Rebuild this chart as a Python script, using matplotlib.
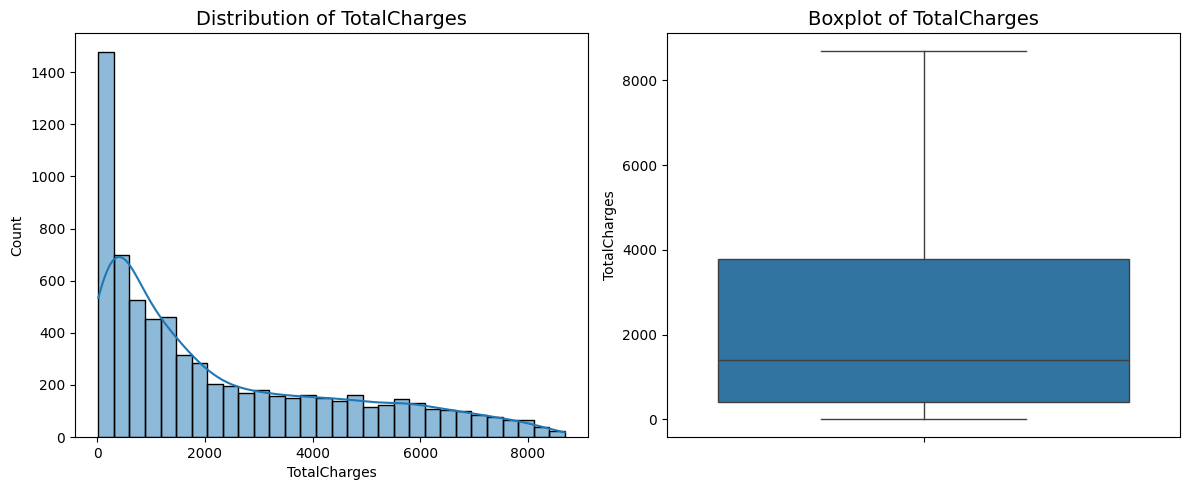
import numpy as np
import matplotlib
matplotlib.use("Agg")
from matplotlib import pyplot as plt

# histogram of TotalCharges, 30 bins between min and max
charge_min = 18.8
charge_max = 8684.8
counts = [1477, 700, 524, 454, 462, 315, 285, 204, 195, 169,
          181, 159, 150, 162, 149, 140, 161, 115, 124, 146,
          131, 109, 104, 99, 86, 76, 65, 65, 38, 24]

# boxplot summary
q1 = 401.45
median = 1397.475
q3 = 3794.74

blue = '#1f77b4'
edges = np.linspace(charge_min, charge_max, len(counts) + 1)
width = edges[1] - edges[0]
centers = (edges[:-1] + edges[1:]) / 2

fig = plt.figure(figsize=(11.89, 4.9), dpi=100)
ax1 = fig.add_axes([75 / 1189, 53 / 490, 513 / 1189, 404 / 490])
ax2 = fig.add_axes([667 / 1189, 53 / 490, 513 / 1189, 404 / 490])

# histogram
ax1.bar(edges[:-1], counts, width=width, align='edge', color=blue, alpha=0.5,
        edgecolor='none')
ax1.bar(edges[:-1], counts, width=width, align='edge', facecolor='none',
        edgecolor='black', linewidth=1)

# kde from the binned values, scaled to counts
sample = np.repeat(centers, counts)
bw = 1.1 * sample.std(ddof=1) * len(sample) ** (-1 / 5)
grid = np.linspace(charge_min, charge_max, 300)
dens = np.exp(-0.5 * ((grid[:, None] - sample[None, :]) / bw) ** 2).sum(axis=1)
dens = dens / (len(sample) * bw * np.sqrt(2 * np.pi))
ax1.plot(grid, dens * len(sample) * width, color=blue, linewidth=1.5)

ax1.set_xlim(charge_min - 0.05 * (charge_max - charge_min),
             charge_max + 0.05 * (charge_max - charge_min))
ax1.set_ylim(0, max(counts) * 1.05)
ax1.set_title('Distribution of TotalCharges', fontsize=14)
ax1.set_xlabel('TotalCharges')
ax1.set_ylabel('Count')

# boxplot
stats = [dict(whislo=charge_min, q1=q1, med=median, q3=q3, whishi=charge_max, fliers=[])]
line = '#3f3f3f'
ax2.bxp(stats, positions=[0], widths=0.8, patch_artist=True, showfliers=False,
        boxprops=dict(facecolor='#3274a1', edgecolor=line, linewidth=1),
        medianprops=dict(color=line, linewidth=1),
        whiskerprops=dict(color=line, linewidth=1),
        capprops=dict(color=line, linewidth=1), capwidths=0.4)
ax2.set_xlim(-0.5, 0.5)
ax2.set_ylim(charge_min - 0.05 * (charge_max - charge_min),
             charge_max + 0.05 * (charge_max - charge_min))
ax2.set_xticks([0])
ax2.set_xticklabels([''])
ax2.set_yticks([0, 2000, 4000, 6000, 8000])
ax2.set_ylabel('TotalCharges')
ax2.set_title('Boxplot of TotalCharges', fontsize=14)

fig.savefig('out.png', dpi=100)
